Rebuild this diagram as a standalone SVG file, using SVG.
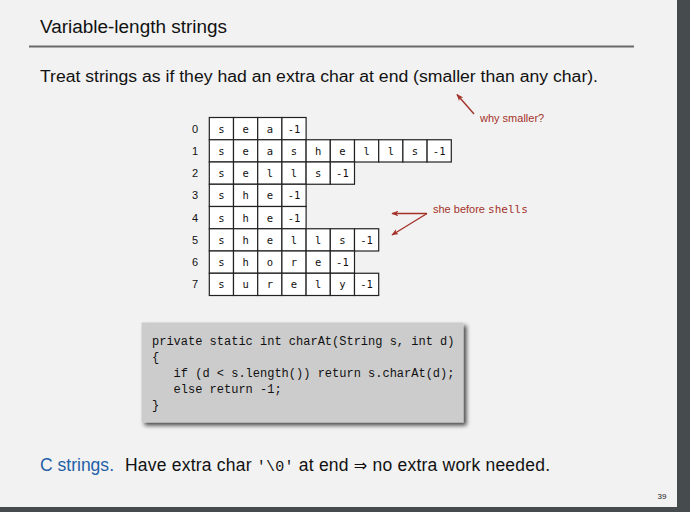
<svg xmlns="http://www.w3.org/2000/svg" width="690" height="512" viewBox="0 0 690 512">
  <style>
    .title { font-family: "Liberation Sans", "DejaVu Sans", sans-serif; font-size: 18px; fill: #111; }
    .body { font-family: "Liberation Sans", "DejaVu Sans", sans-serif; font-size: 16px; fill: #111; }
    .mono { font-family: "Liberation Mono", "DejaVu Sans Mono", monospace; }
    .lbl { font-family: "Liberation Sans", "DejaVu Sans", sans-serif; font-size: 11px; fill: #111; text-anchor: middle; }
    .cell rect { fill: #ffffff; stroke: #222; stroke-width: 1.2; }
    .cell text { font-family: "DejaVu Sans Mono", "Liberation Mono", monospace; font-size: 10.5px; fill: #111; text-anchor: middle; }
    .note { font-family: "Liberation Sans", "DejaVu Sans", sans-serif; font-size: 11px; fill: #a3322a; }
    .arrow { stroke: #a3322a; stroke-width: 1.4; fill: none; marker-end: url(#head); }
    .code { font-family: "Liberation Mono", "DejaVu Sans Mono", monospace; font-size: 12px; fill: #111; }
  </style>
  <defs>
    <marker id="head" viewBox="0 0 10 10" refX="9" refY="5" markerWidth="7" markerHeight="7" orient="auto" markerUnits="userSpaceOnUse">
      <path d="M0,1 L10,5 L0,9 L2.5,5 Z" fill="#a3322a"/>
    </marker>
    <filter id="shadow" x="-10%" y="-10%" width="125%" height="130%">
      <feGaussianBlur in="SourceAlpha" stdDeviation="2"/>
      <feOffset dx="3" dy="3" result="b"/>
      <feComponentTransfer><feFuncA type="linear" slope="0.7"/></feComponentTransfer>
      <feMerge><feMergeNode/><feMergeNode in="SourceGraphic"/></feMerge>
    </filter>
  </defs>

  <!-- page frame -->
  <rect x="0" y="0" width="690" height="512" fill="#464b4e"/>
  <rect x="0" y="0" width="677" height="507" fill="#f2f2f2"/>

  <!-- heading -->
  <text class="title" x="40" y="33" textLength="187" lengthAdjust="spacingAndGlyphs">Variable-length strings</text>
  <line x1="29" y1="46.5" x2="634" y2="46.5" stroke="#6a6a6a" stroke-width="2"/>

  <text class="body" x="40" y="82" textLength="558" lengthAdjust="spacingAndGlyphs">Treat strings as if they had an extra char at end (smaller than any char).</text>

  <!-- row indices -->
  <g id="indices">
    <text class="lbl" x="195" y="132.6">0</text>
    <text class="lbl" x="195" y="154.9">1</text>
    <text class="lbl" x="195" y="177.1">2</text>
    <text class="lbl" x="195" y="199.4">3</text>
    <text class="lbl" x="195" y="221.6">4</text>
    <text class="lbl" x="195" y="243.9">5</text>
    <text class="lbl" x="195" y="266.1">6</text>
    <text class="lbl" x="195" y="288.4">7</text>
  </g>

  <!-- string rows, each cell 24.2 x 22.25 -->
  <g id="row0" class="cell" transform="translate(209.3,117.5)">
    <rect x="0" y="0" width="24.2" height="22.25"/><text x="12.1" y="15">s</text>
    <rect x="24.2" y="0" width="24.2" height="22.25"/><text x="36.3" y="15">e</text>
    <rect x="48.4" y="0" width="24.2" height="22.25"/><text x="60.5" y="15">a</text>
    <rect x="72.6" y="0" width="24.2" height="22.25"/><text x="84.7" y="15">-1</text>
  </g>
  <g id="row1" class="cell" transform="translate(209.3,139.75)">
    <rect x="0" y="0" width="24.2" height="22.25"/><text x="12.1" y="15">s</text>
    <rect x="24.2" y="0" width="24.2" height="22.25"/><text x="36.3" y="15">e</text>
    <rect x="48.4" y="0" width="24.2" height="22.25"/><text x="60.5" y="15">a</text>
    <rect x="72.6" y="0" width="24.2" height="22.25"/><text x="84.7" y="15">s</text>
    <rect x="96.8" y="0" width="24.2" height="22.25"/><text x="108.9" y="15">h</text>
    <rect x="121" y="0" width="24.2" height="22.25"/><text x="133.1" y="15">e</text>
    <rect x="145.2" y="0" width="24.2" height="22.25"/><text x="157.3" y="15">l</text>
    <rect x="169.4" y="0" width="24.2" height="22.25"/><text x="181.5" y="15">l</text>
    <rect x="193.6" y="0" width="24.2" height="22.25"/><text x="205.7" y="15">s</text>
    <rect x="217.8" y="0" width="24.2" height="22.25"/><text x="229.9" y="15">-1</text>
  </g>
  <g id="row2" class="cell" transform="translate(209.3,162)">
    <rect x="0" y="0" width="24.2" height="22.25"/><text x="12.1" y="15">s</text>
    <rect x="24.2" y="0" width="24.2" height="22.25"/><text x="36.3" y="15">e</text>
    <rect x="48.4" y="0" width="24.2" height="22.25"/><text x="60.5" y="15">l</text>
    <rect x="72.6" y="0" width="24.2" height="22.25"/><text x="84.7" y="15">l</text>
    <rect x="96.8" y="0" width="24.2" height="22.25"/><text x="108.9" y="15">s</text>
    <rect x="121" y="0" width="24.2" height="22.25"/><text x="133.1" y="15">-1</text>
  </g>
  <g id="row3" class="cell" transform="translate(209.3,184.25)">
    <rect x="0" y="0" width="24.2" height="22.25"/><text x="12.1" y="15">s</text>
    <rect x="24.2" y="0" width="24.2" height="22.25"/><text x="36.3" y="15">h</text>
    <rect x="48.4" y="0" width="24.2" height="22.25"/><text x="60.5" y="15">e</text>
    <rect x="72.6" y="0" width="24.2" height="22.25"/><text x="84.7" y="15">-1</text>
  </g>
  <g id="row4" class="cell" transform="translate(209.3,206.5)">
    <rect x="0" y="0" width="24.2" height="22.25"/><text x="12.1" y="15">s</text>
    <rect x="24.2" y="0" width="24.2" height="22.25"/><text x="36.3" y="15">h</text>
    <rect x="48.4" y="0" width="24.2" height="22.25"/><text x="60.5" y="15">e</text>
    <rect x="72.6" y="0" width="24.2" height="22.25"/><text x="84.7" y="15">-1</text>
  </g>
  <g id="row5" class="cell" transform="translate(209.3,228.75)">
    <rect x="0" y="0" width="24.2" height="22.25"/><text x="12.1" y="15">s</text>
    <rect x="24.2" y="0" width="24.2" height="22.25"/><text x="36.3" y="15">h</text>
    <rect x="48.4" y="0" width="24.2" height="22.25"/><text x="60.5" y="15">e</text>
    <rect x="72.6" y="0" width="24.2" height="22.25"/><text x="84.7" y="15">l</text>
    <rect x="96.8" y="0" width="24.2" height="22.25"/><text x="108.9" y="15">l</text>
    <rect x="121" y="0" width="24.2" height="22.25"/><text x="133.1" y="15">s</text>
    <rect x="145.2" y="0" width="24.2" height="22.25"/><text x="157.3" y="15">-1</text>
  </g>
  <g id="row6" class="cell" transform="translate(209.3,251)">
    <rect x="0" y="0" width="24.2" height="22.25"/><text x="12.1" y="15">s</text>
    <rect x="24.2" y="0" width="24.2" height="22.25"/><text x="36.3" y="15">h</text>
    <rect x="48.4" y="0" width="24.2" height="22.25"/><text x="60.5" y="15">o</text>
    <rect x="72.6" y="0" width="24.2" height="22.25"/><text x="84.7" y="15">r</text>
    <rect x="96.8" y="0" width="24.2" height="22.25"/><text x="108.9" y="15">e</text>
    <rect x="121" y="0" width="24.2" height="22.25"/><text x="133.1" y="15">-1</text>
  </g>
  <g id="row7" class="cell" transform="translate(209.3,273.25)">
    <rect x="0" y="0" width="24.2" height="22.25"/><text x="12.1" y="15">s</text>
    <rect x="24.2" y="0" width="24.2" height="22.25"/><text x="36.3" y="15">u</text>
    <rect x="48.4" y="0" width="24.2" height="22.25"/><text x="60.5" y="15">r</text>
    <rect x="72.6" y="0" width="24.2" height="22.25"/><text x="84.7" y="15">e</text>
    <rect x="96.8" y="0" width="24.2" height="22.25"/><text x="108.9" y="15">l</text>
    <rect x="121" y="0" width="24.2" height="22.25"/><text x="133.1" y="15">y</text>
    <rect x="145.2" y="0" width="24.2" height="22.25"/><text x="157.3" y="15">-1</text>
  </g>

  <!-- annotations -->
  <g id="note-smaller">
    <text class="note" x="480" y="122">why smaller?</text>
  </g>
  <g id="note-she">
    <text class="note" x="433" y="213">she before <tspan font-family="DejaVu Sans Mono, monospace" font-size="11">shells</tspan></text>
  </g>
  <g id="connectors">
    <line class="arrow" x1="474" y1="114" x2="457" y2="94.5"/>
    <line class="arrow" x1="427" y1="213.5" x2="392" y2="213.5"/>
    <line class="arrow" x1="427" y1="213.5" x2="392" y2="235"/>
  </g>

  <!-- charAt code box -->
  <g id="code">
    <rect x="141.5" y="322.5" width="322" height="100" fill="#cccccc" filter="url(#shadow)"/>
    <text class="code" x="152" y="345">private static int charAt(String s, int d)</text>
    <text class="code" x="152" y="361">{</text>
    <text class="code" x="152" y="377" xml:space="preserve">   if (d &lt; s.length()) return s.charAt(d);</text>
    <text class="code" x="152" y="393" xml:space="preserve">   else return -1;</text>
    <text class="code" x="152" y="409">}</text>
  </g>

  <!-- closing remark -->
  <text class="body" x="40" y="471" textLength="74" lengthAdjust="spacingAndGlyphs" style="fill:#1f5fa6;font-size:17.5px">C strings.</text>
  <text class="body" x="125" y="471" textLength="425" lengthAdjust="spacing" style="font-size:17.5px">Have extra char <tspan class="mono" style="font-size:15px">'\0'</tspan> at end <tspan font-family="DejaVu Sans" style="font-size:16px">⇒</tspan>  no extra work needed.</text>

  <text x="662" y="499" font-family="Liberation Sans, sans-serif" font-size="8" fill="#222" text-anchor="middle">39</text>
</svg>
